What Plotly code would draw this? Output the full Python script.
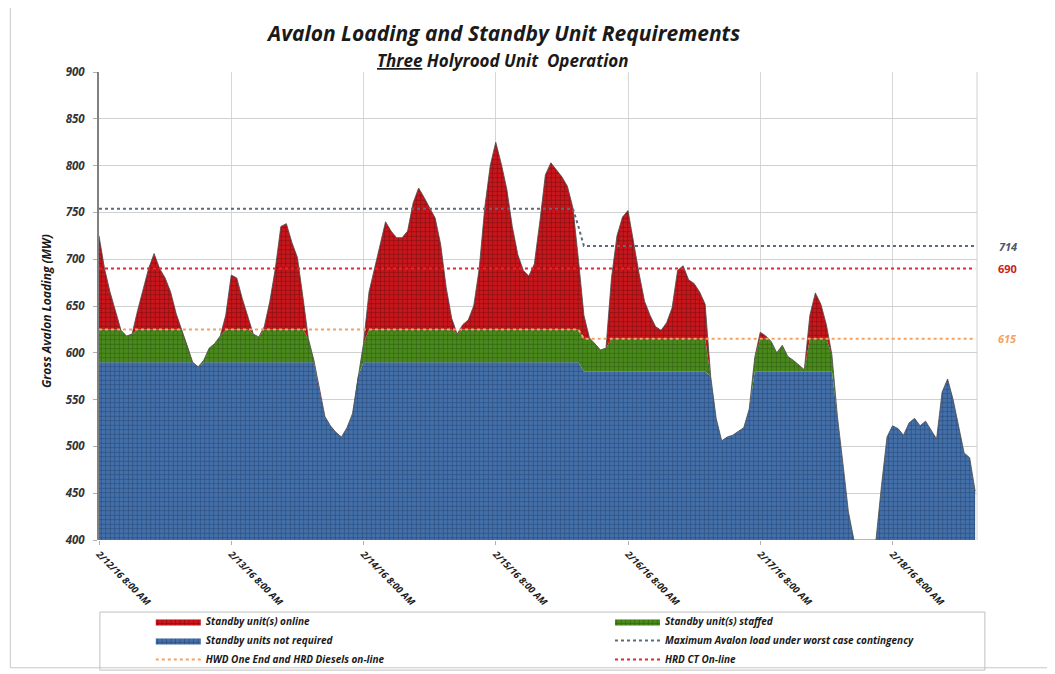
"""
Avalon loading vs standby unit requirements - stacked area chart
"""

import numpy as np
import pandas as pd
import plotly.graph_objects as go

# hourly gross Avalon load, starting 2/12/16 8:00 AM
START = "2016-02-12 08:00"
LOAD_MW = [
    725, 690, 665, 645, 624, 618, 620, 645, 668, 690,
    706, 690, 680, 665, 642, 625, 608, 590, 585, 592,
    605, 610, 618, 640, 683, 680, 658, 638, 620, 617,
    628, 655, 690, 735, 738, 718, 702, 660, 615, 592,
    560, 532, 522, 515, 510, 520, 535, 575, 610, 665,
    690, 718, 740, 730, 723, 723, 730, 760, 776, 766,
    755, 744, 716, 670, 637, 620, 630, 635, 650, 690,
    755, 800, 825, 802, 775, 735, 705, 688, 682, 695,
    740, 790, 803, 795, 788, 778, 755, 700, 640, 616,
    610, 603, 605, 680, 725, 745, 752, 718, 685, 655,
    640, 628, 624, 632, 648, 688, 693, 678, 674, 665,
    652, 575, 530, 506, 510, 512, 516, 520, 540, 595,
    622, 618, 612, 600, 608, 596, 592, 587, 582, 640,
    664, 652, 630, 598, 532, 482, 430, 400, 400, 400,
    400, 400, 458, 510, 522, 519, 512, 525, 530, 522,
    527, 518, 508, 558, 572, 550, 520, 493, 488, 452,
]

# thresholds change when the operating plan switches (hour index from start)
SWITCH_HOUR = 88
NOT_REQUIRED_MW = [590, 580]     # below this no standby unit needed
STAFFED_MW = [625, 615]          # between levels: standby staffed (HWD / HRD diesels line)
MAX_LOAD_MW = [754, 735, 714]    # before, during, after the switch
HRD_CT_MW = 690

TICK_DATES = ["2016-02-12 08:00", "2016-02-13 08:00", "2016-02-14 08:00", "2016-02-15 08:00",
              "2016-02-16 08:00", "2016-02-17 08:00", "2016-02-18 08:00"]
TICK_LABELS = ["2/12/16 8:00 AM", "2/13/16 8:00 AM", "2/14/16 8:00 AM", "2/15/16 8:00 AM",
               "2/16/16 8:00 AM", "2/17/16 8:00 AM", "2/18/16 8:00 AM"]

FONT = "Open Sans"
RED = "#c8161c"
GREEN = "#4a8a1c"
BLUE = "#4470aa"

load = np.array(LOAD_MW, dtype=float)
hours = pd.date_range(START, periods=len(load), freq="h")
idx = np.arange(len(load))

base = np.where(idx < SWITCH_HOUR, NOT_REQUIRED_MW[0], NOT_REQUIRED_MW[1])
staff = np.where(idx < SWITCH_HOUR, STAFFED_MW[0], STAFFED_MW[1])
max_line = np.where(idx < SWITCH_HOUR - 1, MAX_LOAD_MW[0],
                    np.where(idx == SWITCH_HOUR - 1, MAX_LOAD_MW[1], MAX_LOAD_MW[2]))
hrd_line = np.full(len(load), HRD_CT_MW)

blue_part = np.minimum(load, base)
green_part = np.clip(load - base, 0, staff - base)
red_part = np.maximum(load - staff, 0)


def pattern(fg, bg):
    return dict(shape="+", fgcolor=fg, bgcolor=bg, size=4.5, solidity=0.28, fgopacity=0.75)


fig = go.Figure()

fig.add_trace(go.Scatter(
    x=hours, y=blue_part, stackgroup="load", mode="lines", line=dict(width=0),
    fillcolor=BLUE, fillpattern=pattern("#20406c", BLUE),
    name="Standby units not required", legend="legend", legendrank=2,
))
fig.add_trace(go.Scatter(
    x=hours, y=green_part, stackgroup="load", mode="lines", line=dict(width=0),
    fillcolor=GREEN, fillpattern=pattern("#2a5410", GREEN),
    name="Standby unit(s) staffed", legend="legend2", legendrank=1,
))
fig.add_trace(go.Scatter(
    x=hours, y=red_part, stackgroup="load", mode="lines", line=dict(width=0),
    fillcolor=RED, fillpattern=pattern("#6e0a0c", RED),
    name="Standby unit(s) online", legend="legend", legendrank=1,
))
# thin outline along the top of the load
fig.add_trace(go.Scatter(
    x=hours, y=load, mode="lines", line=dict(color="#4a4a4a", width=0.8),
    showlegend=False, hoverinfo="skip", cliponaxis=False,
))

fig.add_trace(go.Scatter(
    x=hours, y=max_line, mode="lines", line=dict(color="#5b6b7b", width=2, dash="dot"),
    name="Maximum Avalon load under worst case contingency", legend="legend2", legendrank=2,
))
fig.add_trace(go.Scatter(
    x=hours, y=staff, mode="lines", line=dict(color="#f4a261", width=2, dash="dot"),
    name="HWD One End and HRD Diesels on-line", legend="legend", legendrank=3,
))
fig.add_trace(go.Scatter(
    x=hours, y=hrd_line, mode="lines", line=dict(color="#e8262a", width=2, dash="dot"),
    name="HRD CT On-line", legend="legend2", legendrank=3,
))

legend_font = dict(family=FONT, size=10, color="#1a1a1a", weight="bold", style="italic")

# the page body has an 8px margin, so the figure is a bit smaller than the window
fig.update_layout(
    width=1047,
    height=666,
    margin=dict(l=91, r=78, t=64, b=134, autoexpand=False),
    paper_bgcolor="white",
    plot_bgcolor="white",
    font=dict(family=FONT, color="#1a1a1a"),
    showlegend=True,
    legend=dict(x=0.059, y=-0.143, xanchor="left", yanchor="top", traceorder="normal",
                font=legend_font, itemwidth=45, bgcolor="rgba(0,0,0,0)", tracegroupgap=0),
    legend2=dict(x=0.582, y=-0.143, xanchor="left", yanchor="top", traceorder="normal",
                 font=legend_font, itemwidth=45, bgcolor="rgba(0,0,0,0)", tracegroupgap=0),
    xaxis=dict(
        type="date",
        range=[hours[0], hours[-1] + pd.Timedelta(minutes=20)],
        tickvals=TICK_DATES,
        ticktext=TICK_LABELS,
        tickangle=45,
        tickfont=dict(family=FONT, size=9.5, color="#1a1a1a", weight="bold", style="italic"),
        showgrid=True,
        gridcolor="#d6d6d6",
        ticks="outside",
        ticklen=4,
        tickcolor="#b0b0b0",
        showline=False,
        zeroline=False,
    ),
    yaxis=dict(
        range=[400, 900],
        dtick=50,
        tickfont=dict(family=FONT, size=11.5, color="#333333", weight="bold", style="italic"),
        ticklabelstandoff=6,
        gridcolor="#d0d0d0",
        showline=True,
        linecolor="#808080",
        linewidth=2,
        ticks="outside",
        ticklen=4,
        tickcolor="#b0b0b0",
        zeroline=False,
    ),
    shapes=[
        # outer chart border
        dict(type="rect", xref="paper", yref="paper", x0=-0.101, x1=1.081, y0=-0.273, y1=1.143,
             line=dict(color="#c8c8c8", width=1), layer="below"),
        # legend box
        dict(type="rect", xref="paper", yref="paper", x0=0.001, x1=1.009, y0=-0.278, y1=-0.154,
             line=dict(color="#bfbfbf", width=1), layer="below"),
        # right plot border
        dict(type="line", xref="paper", yref="paper", x0=1, x1=1, y0=0, y1=1,
             line=dict(color="#d0d0d0", width=1)),
    ],
    annotations=[
        dict(text="Avalon Loading and Standby Unit Requirements", xref="paper", yref="paper",
             x=0.46, y=1.083, xanchor="center", yanchor="middle", showarrow=False,
             font=dict(family=FONT, size=21, color="#1a1a1a", weight="bold", style="italic")),
        dict(text="<span style='text-decoration:underline'>Three</span> Holyrood Unit  Operation",
             xref="paper", yref="paper", x=0.46, y=1.024, xanchor="center", yanchor="middle",
             showarrow=False,
             font=dict(family=FONT, size=17, color="#1a1a1a", weight="bold", style="italic")),
        dict(text="Gross Avalon Loading (MW)", xref="paper", yref="paper", x=-0.06, y=0.49,
             xanchor="center", yanchor="middle", textangle=-90, showarrow=False,
             font=dict(family=FONT, size=12, color="#1a1a1a", weight="bold", style="italic")),
        dict(text=str(MAX_LOAD_MW[-1]), xref="paper", yref="y", x=1.035, y=MAX_LOAD_MW[-1],
             xanchor="center", yanchor="middle", showarrow=False,
             font=dict(family=FONT, size=11, color="#4a5866", weight="bold", style="italic")),
        dict(text=str(HRD_CT_MW), xref="paper", yref="y", x=1.035, y=HRD_CT_MW,
             xanchor="center", yanchor="middle", showarrow=False,
             font=dict(family=FONT, size=11, color="#c81e24", weight="bold")),
        dict(text=str(STAFFED_MW[-1]), xref="paper", yref="y", x=1.035, y=STAFFED_MW[-1],
             xanchor="center", yanchor="middle", showarrow=False,
             font=dict(family=FONT, size=11, color="#f4a261", weight="bold", style="italic")),
    ],
)

fig.write_html("out.html")
